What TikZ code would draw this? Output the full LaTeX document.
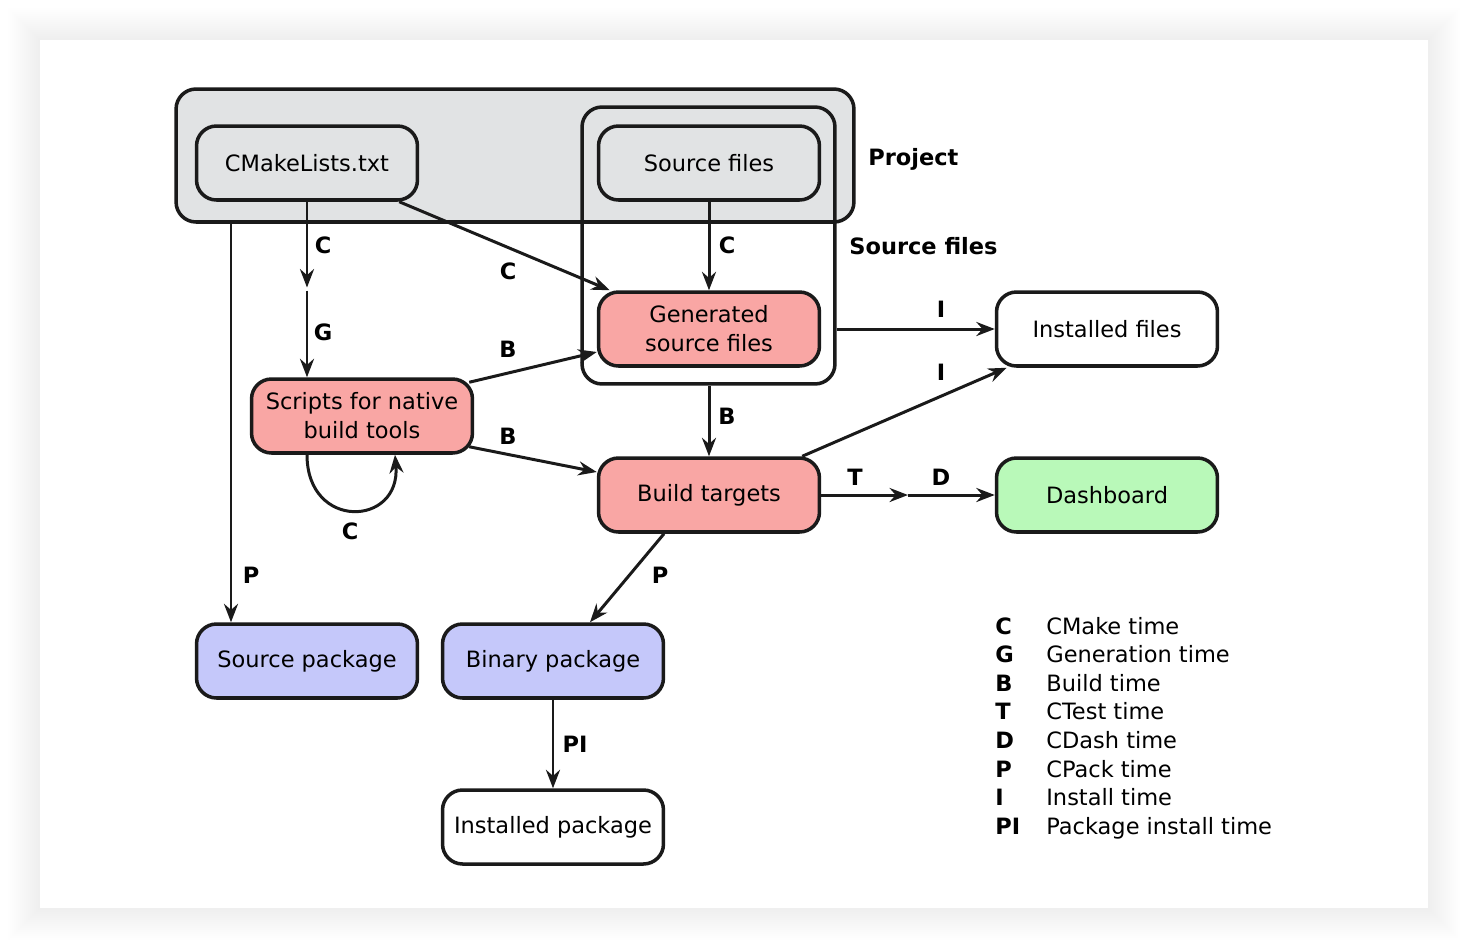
\documentclass[tikz,border=0pt]{standalone}
\usepackage{fontspec}
\setmainfont{DejaVu Sans}
\usetikzlibrary{arrows.meta}
\usetikzlibrary{positioning}

\definecolor{boxgray}{HTML}{E1E3E4}
\definecolor{boxpink}{HTML}{F9A6A4}
\definecolor{boxgreen}{HTML}{B9F9B9}
\definecolor{boxblue}{HTML}{C5C8FA}
\definecolor{inkline}{HTML}{1A1A1A}

\tikzset{
  stage/.style={draw=inkline, line width=2pt, rounded corners=0.4cm,
    minimum width=4.42cm, minimum height=1.48cm, align=center,
    font=\fontsize{12.8}{16.5}\selectfont},
  groupbox/.style={draw=inkline, line width=2pt, rounded corners=0.4cm, inner sep=0pt},
  arr/.style={draw=inkline, line width=1.7pt, -{Stealth[length=10.5pt,width=8pt,inset=3.5pt]}},
  lbl/.style={font=\fontsize{12.8}{15}\selectfont\bfseries, inner sep=0pt},
  legtxt/.style={font=\fontsize{12.8}{15}\selectfont, anchor=base west, inner sep=0pt}
}

\begin{document}
\begin{tikzpicture}[x=0.02cm, y=-0.02cm]
\useasboundingbox (0,0) rectangle (1468,948);
% card with a soft shadow
\fill[white] (0,0) rectangle (1468,948);
\foreach \d in {2,4,...,32}
  \fill[black, opacity=0.004] (40-\d,40-\d) rectangle (1428+\d,908+\d);
\fill[white] (40,40) rectangle (1428,908);

% groups
\node[groupbox, fill=boxgray, minimum width=13.56cm, minimum height=2.66cm] (project) at (515,155.5) {};
\node[groupbox, minimum width=5.06cm, minimum height=5.54cm] (srcgroup) at (708.5,245.5) {};
\node[lbl, anchor=west] (projectlbl) at (868,159) {Project};
\node[lbl, anchor=west] (srcgrouplbl) at (849,246) {Source files};

% stages
\node[stage, fill=boxgray] (cmake) at (307,163) {CMakeLists.txt};
\node[stage, fill=boxgray] (srcf) at (709,163) {Source files};
\node[stage, fill=boxpink] (gen) at (709,329) {Generated\\source files};
\node[stage, fill=boxpink] (scripts) at (362,416) {Scripts for native\\build tools};
\node[stage, fill=boxpink] (build) at (709,495) {Build targets};
\node[stage, fill=white] (inst) at (1107,329) {Installed files};
\node[stage, fill=boxgreen] (dash) at (1107,495) {Dashboard};
\node[stage, fill=boxblue] (srcpkg) at (307,661) {Source package};
\node[stage, fill=boxblue] (binpkg) at (553,661) {Binary package};
\node[stage, fill=white] (instpkg) at (553,827) {Installed package};

\coordinate (cg) at (307,289); % between C and G
\coordinate (td) at (908,495); % between T and D
\coordinate (ptop) at (231,224); % P leaves the project box

% connectors
\draw[arr] (cmake.south) -- ([yshift=0.03cm]cg);
\draw[arr] ([yshift=-0.03cm]cg) -- (cg |- scripts.north);
\draw[arr] ([xshift=-0.4cm]cmake.south east) -- ([xshift=0.26cm]gen.north west);
\draw[arr] (srcf.south) -- (gen.north);
\draw[arr] ([xshift=-0.1cm,yshift=-0.1cm]scripts.north east) -- ([yshift=-0.46cm]gen.west);
\draw[arr] ([xshift=-0.1cm,yshift=0.16cm]scripts.south east) -- ([yshift=0.46cm]build.west);
\draw[arr] ([xshift=-1.1cm]scripts.south) .. controls +(0,76) and +(6,72) .. ([xshift=0.66cm]scripts.south);
\draw[arr] (srcgroup.south -| build) -- (build.north);
\draw[arr] (srcgroup.east |- gen) -- (inst.west);
\draw[arr] ([xshift=-0.38cm]build.north east) -- ([xshift=0.24cm]inst.south west);
\draw[arr] (build.east) -- (td);
\draw[arr] (td) -- (dash.west);
\draw[arr] (ptop) -- (ptop |- srcpkg.north);
\draw[arr] ([xshift=-0.9cm]build.south) -- ([xshift=0.74cm]binpkg.north);
\draw[arr] (binpkg.south) -- (instpkg.north);

%% Labels for the connectors are typeset.
\node[lbl] (lc1) at (323,245) {C};
\node[lbl] (lg) at (323,332) {G};
\node[lbl] (lc2) at (508,271) {C};
\node[lbl] (lc3) at (727,245) {C};
\node[lbl] (lb1) at (508,349) {B};
\node[lbl] (lb2) at (508,436) {B};
\node[lbl] (lb3) at (727,416) {B};
\node[lbl] (lc4) at (350,531) {C};
\node[lbl] (li1) at (941,309) {I};
\node[lbl] (li2) at (941,372) {I};
\node[lbl] (lt) at (855,477) {T};
\node[lbl] (ld) at (941,477) {D};
\node[lbl] (lp1) at (251,575) {P};
\node[lbl] (lp2) at (660,575) {P};
\node[lbl] (lpi) at (575,744) {PI};

% legend
\foreach \k/\t [count=\i from 0] in {C/CMake time, G/Generation time, B/Build time,
    T/CTest time, D/CDash time, P/CPack time, I/Install time, PI/Package install time} {
  \node[legtxt, font=\fontsize{12.8}{15}\selectfont\bfseries] (legk\i) at (995,634+28.6*\i) {\k};
  \node[legtxt] (legt\i) at (1046,634+28.6*\i) {\t};
}
\end{tikzpicture}
\end{document}
